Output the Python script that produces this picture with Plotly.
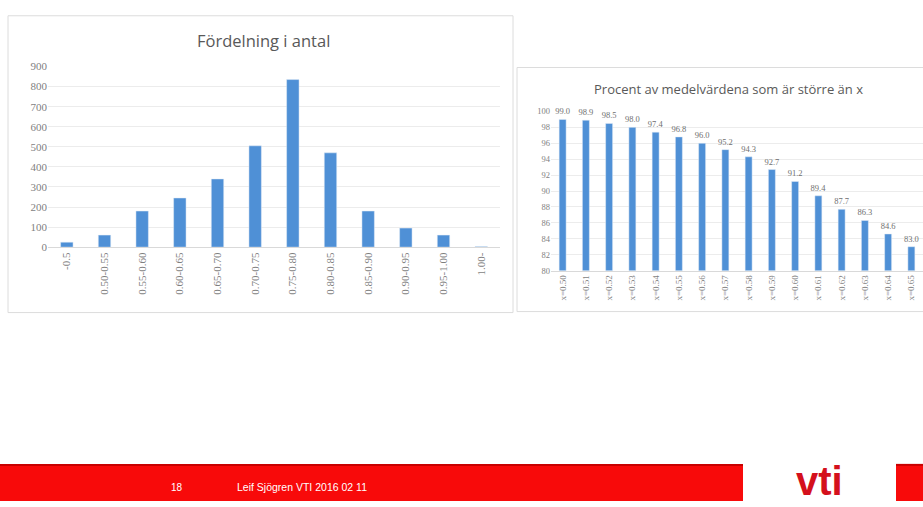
import plotly.graph_objects as go

W, H = 923, 507

# Fördelning i antal – antal medelvärden per intervall
intervals = ["-0.5", "0.50-0.55", "0.55-0.60", "0.60-0.65", "0.65-0.70", "0.70-0.75",
             "0.75-0.80", "0.80-0.85", "0.85-0.90", "0.90-0.95", "0.95-1.00", "1.00-"]
counts = [25, 60, 180, 245, 340, 505, 835, 470, 180, 95, 60, 3]

# Procent av medelvärdena som är större än x
thresholds = ["x=0.50", "x=0.51", "x=0.52", "x=0.53", "x=0.54", "x=0.55", "x=0.56", "x=0.57",
              "x=0.58", "x=0.59", "x=0.60", "x=0.61", "x=0.62", "x=0.63", "x=0.64", "x=0.65"]
percent = [99.0, 98.9, 98.5, 98.0, 97.4, 96.8, 96.0, 95.2,
           94.3, 92.7, 91.2, 89.4, 87.7, 86.3, 84.6, 83.0]

footer_page = "18"
footer_text = "Leif Sjögren VTI 2016 02 11"

BLUE = "#4f90d6"
GREY_TXT = "#7f7f7f"
GRID = "#ececec"
RED = "#f80a0a"
SERIF = "Liberation Serif"


def px(x):
    return x / W


def py(y):
    return 1 - y / H


fig = go.Figure()

fig.add_trace(go.Bar(
    x=intervals, y=counts, marker_color=BLUE, width=0.33,
    xaxis="x", yaxis="y", showlegend=False,
))
fig.add_trace(go.Bar(
    x=thresholds, y=percent, marker_color=BLUE, width=0.3,
    text=[f"{v:.1f}" for v in percent], textposition="outside", constraintext="none",
    textfont=dict(size=8.5, color="#6f6f6f", family=SERIF),
    cliponaxis=False, xaxis="x2", yaxis="y2", showlegend=False,
))

shapes = [
    # panel frames
    dict(type="rect", xref="paper", yref="paper", x0=px(8), x1=px(513), y0=py(314), y1=py(10),
         line=dict(color="#dcdcdc", width=1), fillcolor="rgba(0,0,0,0)", layer="below"),
    dict(type="rect", xref="paper", yref="paper", x0=px(517), x1=px(935), y0=py(313), y1=py(63),
         line=dict(color="#dcdcdc", width=1), fillcolor="rgba(0,0,0,0)", layer="below"),
    # footer band
    dict(type="rect", xref="paper", yref="paper", x0=0, x1=px(743), y0=0, y1=py(469),
         line=dict(width=0), fillcolor=RED),
    dict(type="rect", xref="paper", yref="paper", x0=px(896), x1=1, y0=0, y1=py(469),
         line=dict(width=0), fillcolor=RED),
    dict(type="line", xref="paper", yref="paper", x0=0, x1=px(743), y0=py(470), y1=py(470),
         line=dict(color="#c80000", width=2)),
    dict(type="line", xref="paper", yref="paper", x0=px(896), x1=1, y0=py(470), y1=py(470),
         line=dict(color="#c80000", width=2)),
]


def note(text, x, y, size, color, family, xanchor="center"):
    return dict(text=text, x=px(x), y=py(y), xref="paper", yref="paper",
                xanchor=xanchor, yanchor="middle", showarrow=False,
                font=dict(size=size, color=color, family=family))


annotations = [
    note("Fördelning i antal", 263, 35, 16.5, "#595959", "Open Sans"),
    note("Procent av medelvärdena som är större än x", 728, 85, 13, "#595959", "Open Sans"),
    note(footer_page, 177, 493, 10, "white", "Liberation Sans"),
    note(footer_text, 235, 493, 10.5, "white", "Liberation Sans", xanchor="left"),
    note("<b>vti</b>", 819, 487, 40, "#d4101c", "Liberation Sans"),
]

fig.update_layout(
    width=W, height=H,
    margin=dict(l=0, r=0, t=0, b=0),
    paper_bgcolor="white", plot_bgcolor="white",
    xaxis=dict(domain=[px(48), px(500)], type="category", tickangle=-90,
               tickfont=dict(size=11, color=GREY_TXT, family=SERIF),
               showgrid=False, showline=True, linecolor="#d9d9d9",
               ticks="", anchor="y"),
    yaxis=dict(domain=[py(247), py(62)], range=[0, 900], dtick=100,
               tickfont=dict(size=11, color=GREY_TXT, family=SERIF),
               gridcolor=GRID, zeroline=False, ticks="", anchor="x"),
    xaxis2=dict(domain=[px(551), 1.0], type="category", tickangle=-90,
                tickfont=dict(size=9, color=GREY_TXT, family=SERIF),
                showgrid=False, showline=True, linecolor="#d9d9d9", ticks="", anchor="y2"),
    yaxis2=dict(domain=[py(271), py(108)], range=[80, 100], dtick=2,
                tickfont=dict(size=8.5, color=GREY_TXT, family=SERIF),
                gridcolor=GRID, zeroline=False, ticks="", anchor="x2"),
    shapes=shapes,
    annotations=annotations,
)

fig.write_html("out.html")
